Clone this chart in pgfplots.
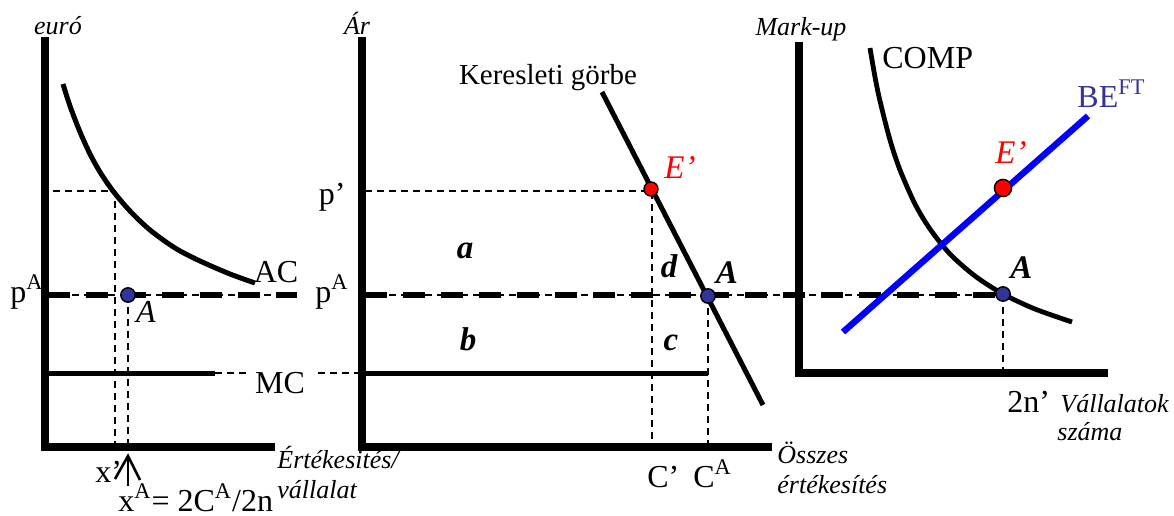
\documentclass[border=0pt]{standalone}
\usepackage{fontspec}
\setmainfont{Liberation Serif}
\usepackage{pgfplots}
\pgfplotsset{compat=1.18}
\definecolor{dotblue}{RGB}{51,51,153}
\definecolor{beblue}{RGB}{0,0,255}
\tikzset{
  thindash/.style={black, line width=1pt, dash pattern=on 3.5pt off 2.5pt},
  thickdash/.style={black, line width=2.9pt, dash pattern=on 11pt off 8pt},
  lab/.style={font=\fontsize{16}{18}\selectfont, inner sep=0pt},
  ilab/.style={font=\fontsize{13}{15}\selectfont\itshape, inner sep=0pt},
  bilab/.style={font=\fontsize{16.5}{18}\selectfont\bfseries\itshape, inner sep=0pt},
}
\begin{document}
\begin{tikzpicture}
\begin{axis}[width=587pt,height=257.5pt,scale only axis,
  xmin=0,xmax=1174,ymin=0,ymax=515,y dir=reverse,
  hide axis,clip=false,enlargelimits=false]
\addplot[draw=none] coordinates {(0,0) (1174,515)};
% axes
\addplot[black, line width=3.6pt, line join=miter] coordinates {(45,37) (45,447) (275,447)};
\addplot[black, line width=3.6pt, line join=miter] coordinates {(362,37) (362,447) (772,447)};
\addplot[black, line width=3.6pt, line join=miter] coordinates {(799,42) (799,373) (1108,373)};
% thin dashed guides
\addplot[thindash] coordinates {(53,191) (115,191) (115,447)};
\addplot[thindash] coordinates {(128,295) (128,447)};
\addplot[thindash] coordinates {(365,191) (652,191) (652,447)};
\addplot[thindash] coordinates {(708,296) (708,447)};
\addplot[thindash] coordinates {(1003,295) (1003,373)};
\addplot[thindash] coordinates {(215,373) (248,373)};
\addplot[thindash] coordinates {(318,373) (360,373)};
% p^A dashed lines
\addplot[thindash] coordinates {(48,295) (297,295)};
\addplot[thickdash] coordinates {(48,295) (297,295)};
\addplot[thindash] coordinates {(365,295) (1003,295)};
\addplot[thickdash] coordinates {(365,295) (1003,295)};
% MC lines
\addplot[black, line width=2.5pt] coordinates {(45,373) (215,373)};
\addplot[black, line width=2.5pt] coordinates {(362,373) (708,373)};
% AC curve
\addplot[black, line width=2.5pt, smooth] coordinates {
(63,84) (70,106) (80,132) (90,154) (100,172) (113,191) (130,211) (150,230) (175,248) (200,261) (230,274) (255,283)};
% demand
\addplot[black, line width=2.5pt] coordinates {(602,92) (763,405)};
% COMP
\addplot[black, line width=2.4pt, smooth] coordinates {
(870,48) (875,77) (880,101) (890,140) (900,170) (915,204) (930,229) (950,254) (975,276) (1003,294) (1035,309) (1072,322)};
% BE
\addplot[beblue, line width=3.2pt] coordinates {(843,332) (1088,116)};
% arrow under left panel
\addplot[black, line width=1.3pt] coordinates {(115,479) (128,456) (140,480)};
\addplot[black, line width=1.3pt] coordinates {(128,456) (128,486)};
% dots
\addplot[only marks, mark=*, mark size=3.6pt, mark options={fill=dotblue, draw=black, line width=0.7pt}] coordinates {(128,295) (708,296) (1003,294)};
\addplot[only marks, mark=*, mark size=3.5pt, mark options={fill=red, draw=black, line width=0.7pt}] coordinates {(651,189)};
\addplot[only marks, mark=*, mark size=4.3pt, mark options={fill=red, draw=black, line width=0.7pt}] coordinates {(1003,188)};
% labels
\node[ilab, anchor=base] at (axis cs:58,34) {euró};
\node[ilab, anchor=base] at (axis cs:357,34) {Ár};
\node[ilab, anchor=base] at (axis cs:801,35) {Mark-up};
\node[font=\fontsize{14.5}{16}\selectfont, inner sep=0pt, anchor=base] at (axis cs:548,84) {Keresleti görbe};
\node[lab, anchor=base east] at (axis cs:346,204) {p’};
\node[lab, anchor=base west] at (axis cs:10,302) {p\textsuperscript{A}};
\node[lab, anchor=base west] at (axis cs:315,302) {p\textsuperscript{A}};
\node[lab, anchor=base] at (axis cs:276,282) {AC};
\node[lab, anchor=base] at (axis cs:280,393) {MC};
\node[lab, anchor=base, font=\fontsize{16}{18}\selectfont\itshape] at (axis cs:146,322) {A};
\node[lab, anchor=base west] at (axis cs:95,482) {x’};
\node[lab, anchor=base west] at (axis cs:118,511) {x\textsuperscript{A}= 2C\textsuperscript{A}/2n};
\node[ilab, anchor=base west] at (axis cs:277,468) {Értékesités/};
\node[ilab, anchor=base west] at (axis cs:277,498) {vállalat};
\node[bilab, anchor=base] at (axis cs:465,258) {a};
\node[bilab, anchor=base] at (axis cs:468,350) {b};
\node[bilab, anchor=base] at (axis cs:671,350) {c};
\node[bilab, anchor=base] at (axis cs:669,277) {d};
\node[bilab, anchor=base] at (axis cs:727,283) {A};
\node[lab, anchor=base, text=red, font=\fontsize{16.5}{18}\selectfont\itshape] at (axis cs:680,178) {E’};
\node[lab, anchor=base west] at (axis cs:647,487) {C’};
\node[lab, anchor=base west] at (axis cs:693,487) {C\textsuperscript{A}};
\node[ilab, anchor=base west] at (axis cs:777,463) {Összes};
\node[ilab, anchor=base west] at (axis cs:777,493) {értékesítés};
\node[lab, anchor=base west] at (axis cs:882,68) {COMP};
\node[lab, anchor=base west, text=dotblue] at (axis cs:1077,107) {BE\textsuperscript{FT}};
\node[lab, anchor=base west, text=red, font=\fontsize{16.5}{18}\selectfont\itshape] at (axis cs:995,163) {E’};
\node[bilab, anchor=base west] at (axis cs:1010,278) {A};
\node[lab, anchor=base west] at (axis cs:1007,412) {2n’};
\node[ilab, anchor=base west] at (axis cs:1060,412) {Vállalatok};
\node[ilab, anchor=base west] at (axis cs:1057,440) {száma};
\end{axis}
\end{tikzpicture}
\end{document}
